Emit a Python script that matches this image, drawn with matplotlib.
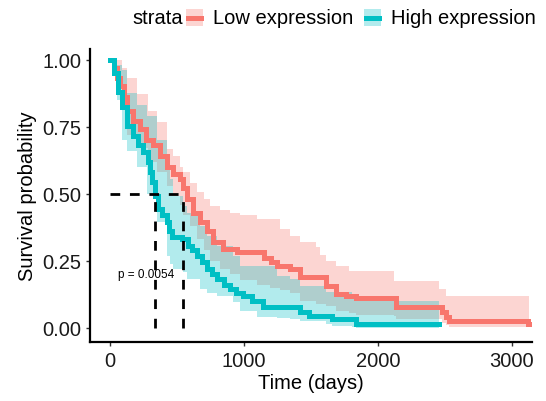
import numpy as np
import matplotlib
matplotlib.use('Agg')
import matplotlib.pyplot as plt
from matplotlib.patches import Rectangle
from matplotlib.lines import Line2D

plt.rcParams['font.family'] = ['Liberation Sans', 'DejaVu Sans']

# Low expression group (step curve, days / survival probability)
low_time = [0, 25, 50, 75, 100, 127, 170, 220, 270, 320, 370, 424, 470, 521, 544, 573,
            620, 670, 720, 767, 841, 950, 1150, 1200, 1243, 1340, 1415, 1616, 1690, 1760,
            1839, 2137, 2480, 2510, 2532, 3120, 3130]
low_surv = [1.0, 0.97, 0.93, 0.90, 0.86, 0.81, 0.77, 0.74, 0.70, 0.68, 0.64, 0.60, 0.575, 0.554,
            0.52, 0.48, 0.43, 0.394, 0.36, 0.32, 0.294, 0.283, 0.26, 0.245, 0.23, 0.219, 0.19,
            0.156, 0.126, 0.119, 0.112, 0.078, 0.059, 0.04, 0.026, 0.015, 0.015]
low_band_time = [0, 40, 90, 127, 200, 280, 350, 424, 470, 521, 544, 600, 648, 700, 745, 820,
                 894, 968, 1100, 1191, 1266, 1340, 1415, 1541, 1564, 1616, 1690, 1787, 1839,
                 2122, 2137, 2457, 2480, 2510, 2532, 3130]
low_upper = [1.0, 1.0, 0.97, 0.93, 0.87, 0.81, 0.766, 0.665, 0.64, 0.6, 0.58, 0.54, 0.505, 0.48,
             0.454, 0.44, 0.43, 0.42, 0.405, 0.405, 0.368, 0.342, 0.32, 0.30, 0.27, 0.25, 0.23,
             0.212, 0.212, 0.175, 0.175, 0.145, 0.145, 0.119, 0.119, 0.119]
low_lower = [1.0, 0.92, 0.82, 0.72, 0.67, 0.62, 0.58, 0.53, 0.49, 0.46, 0.42, 0.38, 0.33, 0.29,
             0.25, 0.22, 0.20, 0.18, 0.16, 0.15, 0.14, 0.13, 0.10, 0.09, 0.09, 0.08, 0.065,
             0.055, 0.05, 0.045, 0.033, 0.033, 0.02, 0.01, 0.005, 0.003]

# High expression group
high_time = [0, 30, 60, 89, 127, 171, 210, 246, 283, 300, 313, 335, 357, 390, 424, 440, 462,
             536, 581, 610, 648, 685, 722, 760, 797, 850, 894, 940, 990, 1060, 1139, 1415,
             1489, 1660, 1839, 2457]
high_surv = [1.0, 0.95, 0.88, 0.825, 0.751, 0.714, 0.68, 0.654, 0.617, 0.58, 0.543, 0.491,
             0.442, 0.42, 0.394, 0.36, 0.338, 0.331, 0.305, 0.29, 0.268, 0.245, 0.219, 0.20,
             0.182, 0.16, 0.145, 0.13, 0.119, 0.10, 0.078, 0.059, 0.045, 0.033, 0.015, 0.015]
high_band_time = [0, 50, 89, 127, 200, 278, 350, 424, 447, 470, 544, 573, 670, 722, 797, 916,
                  968, 1100, 1243, 1340, 1415, 1616, 1660, 1810, 1839, 2457]
high_upper = [1.0, 0.98, 0.96, 0.877, 0.83, 0.79, 0.70, 0.63, 0.554, 0.49, 0.454, 0.43, 0.38,
              0.342, 0.305, 0.268, 0.23, 0.23, 0.193, 0.182, 0.156, 0.134, 0.134, 0.108, 0.10, 0.10]
high_lower = [1.0, 0.85, 0.70, 0.66, 0.60, 0.50, 0.394, 0.268, 0.24, 0.22, 0.208, 0.182, 0.145,
              0.13, 0.119, 0.097, 0.063, 0.041, 0.036, 0.033, 0.025, 0.015, 0.007, 0.003, 0.0, 0.0]

low_median = 544
high_median = 335
p_text = 'p = 0.0054'

red = '#F8766D'
teal = '#00BFC4'

fig = plt.figure(figsize=(5.46, 4.02), dpi=100)
ax = fig.add_axes([0.165, 0.147, 0.809, 0.729])

ax.fill_between(low_band_time, low_lower, low_upper, step='post', color=red, alpha=0.3, lw=0)
ax.fill_between(high_band_time, high_lower, high_upper, step='post', color=teal, alpha=0.3, lw=0)
ax.step(low_time, low_surv, where='post', color=red, lw=3.6, solid_joinstyle='miter')
ax.step(high_time, high_surv, where='post', color=teal, lw=3.6, solid_joinstyle='miter')

# median lines
dash = dict(color='black', lw=2.0, dashes=(3.5, 3.5))
ax.plot([0, low_median], [0.5, 0.5], **dash)
ax.plot([high_median, high_median], [0, 0.5], **dash)
ax.plot([low_median, low_median], [0, 0.5], **dash)

ax.text(270, 0.2, p_text, fontsize=8.5, ha='center', va='center')

ax.set_xlim(-150, 3150)
ax.set_ylim(-0.052, 1.04)
ax.set_xticks([0, 1000, 2000, 3000])
ax.set_yticks([0, 0.25, 0.5, 0.75, 1.0])
ax.set_yticklabels(['0.00', '0.25', '0.50', '0.75', '1.00'])
ax.tick_params(labelsize=14.5, length=3, width=1, color='#333333', labelcolor='#1a1a1a')
ax.set_xlabel('Time (days)', fontsize=14.5, labelpad=2)
ax.set_ylabel('Survival probability', fontsize=14.5, labelpad=4)
for s in ['top', 'right']:
    ax.spines[s].set_visible(False)
for s in ['left', 'bottom']:
    ax.spines[s].set_linewidth(1.6)

# legend built by hand across the top
W, H = 546, 402
def fx(px):
    return px / W
def fy(py):
    return 1 - py / H

fig.text(fx(132), fy(19), 'strata', fontsize=14.5, va='center', ha='left')
for x0, col, lab in [(186, red, 'Low expression'), (364, teal, 'High expression')]:
    fig.add_artist(Rectangle((fx(x0), fy(27)), fx(17), 17 / H, facecolor=col, alpha=0.3, lw=0))
    fig.add_artist(Line2D([fx(x0 + 2), fx(x0 + 15)], [fy(18.5), fy(18.5)], color=col, lw=3.6))
    fig.text(fx(x0 + 27), fy(19), lab, fontsize=14.5, va='center', ha='left')

fig.savefig('out.png', dpi=100)
